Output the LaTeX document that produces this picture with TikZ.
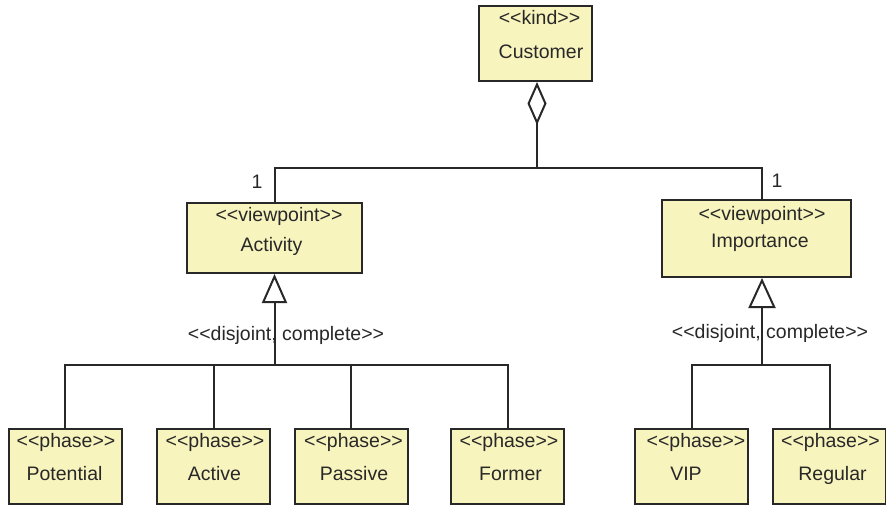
\documentclass[tikz,border=0pt]{standalone}
\usepackage{fontspec}
\setmainfont{Liberation Sans}
\usetikzlibrary{arrows.meta}
\definecolor{boxfill}{RGB}{248,244,190}
\definecolor{ink}{RGB}{40,40,40}
\newcommand\stL{<\kern0pt<}
\newcommand\stR{>\kern0pt>}
\begin{document}
\begin{tikzpicture}[x=1pt,y=-1pt,
  font=\fontsize{19.5}{22}\selectfont,
  umlbox/.style={draw=ink, fill=boxfill, line width=2pt, inner sep=0pt},
  phasebox/.style={umlbox, minimum width=113pt, minimum height=75pt},
  conn/.style={draw=ink, line width=2pt},
  txt/.style={inner sep=0pt, text=ink, anchor=base}]
\useasboundingbox (0,0) rectangle (886,507);
\fill[white] (0,0) rectangle (886,507);

% boxes
\node[umlbox, minimum width=113pt, minimum height=75pt] (cust) at (535.5,43.5) {};
\node[umlbox, minimum width=175pt, minimum height=70pt] (act) at (274.5,238) {};
\node[umlbox, minimum width=189pt, minimum height=77pt] (imp) at (756.5,238.5) {};
\node[phasebox] (pot) at (65,466.5) {};
\node[phasebox] (actv) at (213.5,466.5) {};
\node[phasebox] (pas) at (351,466.5) {};
\node[phasebox] (form) at (507.5,466.5) {};
\node[phasebox] (vip) at (691.5,466.5) {};
\node[phasebox] (reg) at (829.5,466.5) {};

% box texts
\node[txt] (custS) at (539.5,24) {\stL kind\stR};
\node[txt] (custN) at (541,58) {Customer};
\node[txt] (actS) at (279,221) {\stL viewpoint\stR};
\node[txt] (actN) at (271.5,251) {Activity};
\node[txt] (impS) at (762,220) {\stL viewpoint\stR};
\node[txt] (impN) at (760,247) {Importance};
\node[txt] (potS) at (66,447) {\stL phase\stR};
\node[txt] (potN) at (64.5,480) {Potential};
\node[txt] (actvS) at (215,447) {\stL phase\stR};
\node[txt] (actvN) at (214.5,480) {Active};
\node[txt] (pasS) at (353.5,447) {\stL phase\stR};
\node[txt] (pasN) at (354,480) {Passive};
\node[txt] (formS) at (509,447) {\stL phase\stR};
\node[txt] (formN) at (510.5,480) {Former};
\node[txt] (vipS) at (696,447) {\stL phase\stR};
\node[txt] (vipN) at (686,480) {VIP};
\node[txt] (regS) at (830.5,447) {\stL phase\stR};
\node[txt] (regN) at (832.5,480) {Regular};

% junctions
\coordinate (jtop) at (537,168);
\coordinate (jact) at (274.5,365);
\coordinate (jimp) at (762,365);

% aggregation
\draw[conn, -{Diamond[open, fill=white, length=43pt, width=19pt, line width=2pt]}] (jtop) -- (jtop |- cust.south);
\draw[conn] (act.north) |- (jtop) -| (imp.north -| jimp);

% multiplicities
\node[txt] (m1) at (257,188) {1};
\node[txt] (m2) at (777,187) {1};

% generalisations
\draw[conn, -{Triangle[open, fill=white, length=29pt, width=25pt, line width=2pt]}] (jact) -- (act.south);
\draw[conn, -{Triangle[open, fill=white, length=30pt, width=27pt, line width=2pt]}] (jimp) -- (jimp |- imp.south);
\draw[conn] (pot.north) |- (jact) -| (form.north);
\draw[conn] (actv.north) -- (actv.north |- jact);
\draw[conn] (pas.north) -- (pas.north |- jact);
\draw[conn] (vip.north) |- (jimp) -| (reg.north);

\node[txt] (gs1) at (286,340) {\stL disjoint, complete\stR};
\node[txt] (gs2) at (770,338) {\stL disjoint, complete\stR};
\end{tikzpicture}
\end{document}
